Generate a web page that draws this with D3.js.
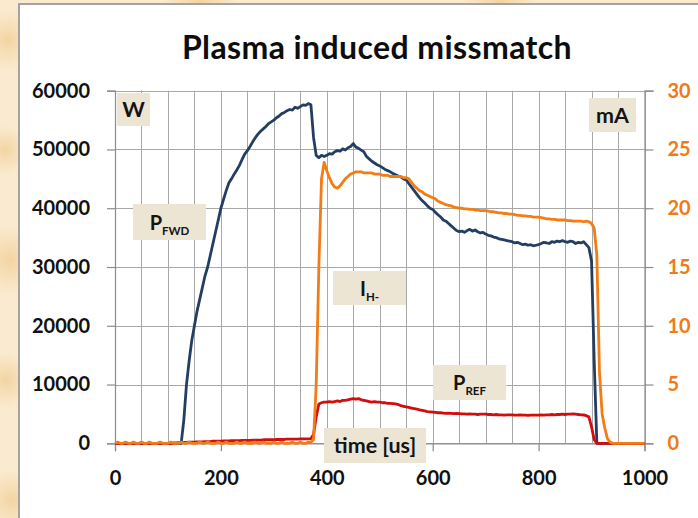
<!DOCTYPE html>
<html><head><meta charset="utf-8">
<script src="https://cdn.jsdelivr.net/npm/d3@7"></script>
<style>html,body{margin:0;padding:0;background:#f9e8c8;overflow:hidden}</style>
</head><body><svg id="c" width="698" height="518"></svg>
<script>
// sampling grid (us)
const time = d3.range(0, 1001, 5);
// P_FWD [W]
const pFwd = [
0,0,0,0,0,0,0,0,0,0,
0,0,0,0,0,0,0,0,0,0,
0,0,0,0,0,0,4000,10000,14000,17500,
20000,22500,24500,26500,28500,30000,32000,34000,36000,38000,
40000,41500,43000,44300,45000,45800,46500,47300,48300,49200,
49800,50500,51300,52000,52600,53100,53500,53900,54400,54700,
55000,55400,55700,56100,56300,56600,56800,56700,57200,57000,
57300,57600,57500,57800,57600,52000,49000,48600,49000,48800,
49000,49300,49200,49600,49800,49700,50100,49900,50300,50500,
51000,50400,50200,49900,49600,48800,48400,48000,47700,47400,
47200,46900,46600,46400,46200,45900,45700,45500,45300,45000,
44800,44200,43600,43000,42400,41800,41300,40900,40400,40000,
39800,39300,38900,38500,38000,37800,37400,37000,36600,36200,
36000,36100,35900,36200,36400,36100,36300,36000,35800,35900,
35600,35400,35300,35100,35000,34800,34700,34600,34500,34400,
34300,34100,34200,34000,33800,33900,33700,33800,33600,33700,
33800,34000,34200,34100,34000,34300,34200,34400,34300,34500,
34300,34200,34400,34300,34000,34200,34100,34300,33800,33300,
31000,14000,0,0,0,0,0,0,0,0,
0,0,0,0,0,0,0,0,0,0,
0];
// I_H- [mA]
const iH = [
0,0.1,0,0,0.1,0,0,0.1,0,0,
0.1,0,0,0.1,0,0,0,0.1,0,0,
0,0.1,0,0,0,0.1,0,0,0.1,0,
0,0,0.1,0,0,0.1,0,0,0,0.1,
0,0,0.1,0,0,0,0.1,0,0,0.1,
0,0,0,0.1,0,0,0.1,0,0,0,
0.1,0,0,0.1,0,0,0,0.1,0,0,
0.1,0,0,0.1,0.1,0.3,5,15,22.5,23.9,
23.2,22.6,22.1,21.8,21.7,21.9,22.2,22.5,22.7,22.9,
23.0,23.1,23.1,23.1,23.0,23.0,23.0,23.0,22.9,22.9,
22.9,22.8,22.8,22.8,22.7,22.7,22.7,22.7,22.7,22.6,
22.6,22.5,22.2,21.9,21.7,21.5,21.4,21.2,21.1,21.0,
20.9,20.8,20.6,20.5,20.4,20.3,20.25,20.2,20.1,20.05,
20.0,20.0,19.95,19.95,19.9,19.9,19.85,19.85,19.8,19.8,
19.8,19.75,19.7,19.7,19.65,19.6,19.6,19.55,19.55,19.5,
19.5,19.45,19.4,19.4,19.35,19.35,19.3,19.3,19.25,19.25,
19.25,19.2,19.15,19.1,19.1,19.05,19.05,19.0,19.0,19.0,
19.0,18.95,18.95,18.9,18.9,18.9,18.9,18.85,18.9,18.85,
18.7,18.3,16,6,2.5,1.3,0.4,0.1,0,0,
0,0,0,0,0,0,0,0,0,0,
0];
// P_REF [W]
const pRef = [
0,0,0,0,0,0,0,0,0,0,
0,0,0,0,0,0,0,0,0,0,
0,0,50,50,100,100,150,150,200,200,
200,250,250,250,300,300,300,350,350,350,
350,400,400,400,450,450,450,450,500,500,
500,500,550,550,550,550,600,600,600,600,
600,650,650,650,650,700,700,700,700,700,
750,750,750,750,800,1500,4500,6700,6900,7000,
7000,7100,7000,7100,7200,7100,7300,7300,7400,7500,
7600,7500,7600,7400,7300,7200,7100,7000,7100,7000,
7000,6900,6900,6800,6800,6750,6700,6600,6400,6300,
6200,6100,6000,5900,5800,5700,5600,5500,5400,5350,
5300,5250,5200,5200,5150,5100,5150,5100,5050,5100,
5050,5000,5000,4950,5000,4950,4950,4900,4950,4950,
4950,4900,4900,4850,4900,4850,4850,4800,4850,4850,
4850,4800,4800,4850,4800,4800,4750,4800,4800,4800,
4800,4850,4800,4850,4850,4900,4850,4900,4900,4950,
4900,4950,4950,5000,4950,4900,4850,4850,4700,4500,
2800,600,0,0,0,0,0,0,0,0,
0,0,0,0,0,0,0,0,0,0,
0];
const xTicks = [0, 200, 400, 600, 800, 1000];
const xGrid = d3.range(0, 1001, 50);
const yLeftTicks = [0, 10000, 20000, 30000, 40000, 50000, 60000];
const yRightTicks = [0, 5, 10, 15, 20, 25, 30];
const title = "Plasma induced missmatch";
const boxLabels = [
  {main: "W", sub: "", x: 117, y: 93, w: 33, h: 33},
  {main: "mA", sub: "", x: 589, y: 98, w: 47, h: 34},
  {main: "P", sub: "FWD", x: 133, y: 204, w: 73, h: 36},
  {main: "I", sub: "H-", x: 333, y: 271, w: 73, h: 34},
  {main: "P", sub: "REF", x: 433, y: 365, w: 73, h: 35},
  {main: "time [us]", sub: "", x: 324, y: 428, w: 102, h: 35}
];

const svg = d3.select("#c");
const FONT = "Lato, 'Open Sans', sans-serif";

// background texture
const defs = svg.append("defs");
const rg = defs.append("radialGradient").attr("id", "blob");
rg.append("stop").attr("offset", "0%").attr("stop-color", "#f1cf98").attr("stop-opacity", 0.8);
rg.append("stop").attr("offset", "100%").attr("stop-color", "#f1cf98").attr("stop-opacity", 0);
svg.append("rect").attr("width", 698).attr("height", 518).attr("fill", "#faebd0");
[[8,40,30],[5,150,25],[10,260,35],[6,380,28],[12,500,30],[200,2,40],[500,2,40]].forEach(b =>
  svg.append("circle").attr("cx", b[0]).attr("cy", b[1]).attr("r", b[2]).attr("fill", "url(#blob)"));

// white panel
svg.append("rect").attr("x", 19).attr("y", 4).attr("width", 700).attr("height", 530)
  .attr("fill", "#fff").attr("stroke", "#a3a3a3").attr("stroke-width", 2);

const x = d3.scaleLinear().domain([0, 1000]).range([115, 644.5]);
const yL = d3.scaleLinear().domain([0, 60000]).range([443.3, 90.7]);
const yR = d3.scaleLinear().domain([0, 30]).range([443.3, 90.7]);

// grid
const grid = svg.append("g").attr("stroke", "#a8a8a8").attr("stroke-width", 1);
xGrid.forEach(t => grid.append("line").attr("x1", Math.round(x(t)) + 0.5).attr("x2", Math.round(x(t)) + 0.5)
  .attr("y1", yL(60000)).attr("y2", yL(0)));
yLeftTicks.forEach(v => grid.append("line").attr("y1", Math.round(yL(v)) + 0.5).attr("y2", Math.round(yL(v)) + 0.5)
  .attr("x1", x(0)).attr("x2", x(1000)));

// axes
const axL = svg.append("g").attr("transform", `translate(${x(0)},0)`)
  .call(d3.axisLeft(yL).tickValues(yLeftTicks).tickSize(8).tickPadding(17).tickFormat(d3.format("d")));
const axR = svg.append("g").attr("transform", `translate(${x(1000)},0)`)
  .call(d3.axisRight(yR).tickValues(yRightTicks).tickSize(9).tickPadding(14).tickFormat(d3.format("d")));
const axB = svg.append("g").attr("transform", `translate(0,${yL(0)})`)
  .call(d3.axisBottom(x).tickValues(xTicks).tickSize(8).tickPadding(20).tickFormat(d3.format("d")));
[axL, axR, axB].forEach(a => {
  a.select(".domain").attr("stroke", "#8c8c8c").attr("stroke-width", 1.2);
  a.selectAll(".tick line").attr("stroke", "#8c8c8c").attr("stroke-width", 1.2);
  a.selectAll("text").attr("font-family", FONT).attr("font-weight", "bold").attr("font-size", 20);
});
axL.selectAll("text").attr("fill", "#111");
axB.selectAll("text").attr("fill", "#111");
axR.selectAll("text").attr("fill", "#f07a17");

// lines
const data = time.map((t, i) => ({t, f: pFwd[i], h: iH[i], r: pRef[i]}));
const mk = (fy) => d3.line().x(d => x(d.t)).y(fy);
svg.append("path").datum(data).attr("d", mk(d => yL(d.f))).attr("fill", "none")
  .attr("stroke", "#233e62").attr("stroke-width", 2.8).attr("stroke-linejoin", "round");
svg.append("path").datum(data).attr("d", mk(d => yL(d.r))).attr("fill", "none")
  .attr("stroke", "#d10d0d").attr("stroke-width", 2.8).attr("stroke-linejoin", "round");
svg.append("path").datum(data).attr("d", mk(d => yR(d.h))).attr("fill", "none")
  .attr("stroke", "#f27c16").attr("stroke-width", 2.8).attr("stroke-linejoin", "round");

// title
svg.append("text").attr("x", 377).attr("y", 59).attr("text-anchor", "middle")
  .attr("font-family", FONT).attr("font-weight", "bold").attr("font-size", 32)
  .attr("letter-spacing", 0.4).attr("fill", "#0d0d0d").text(title);

// label boxes
boxLabels.forEach(b => {
  const g = svg.append("g");
  g.append("rect").attr("x", b.x).attr("y", b.y).attr("width", b.w).attr("height", b.h).attr("fill", "#ece5d3");
  const t = g.append("text").attr("x", b.x + b.w / 2).attr("y", b.y + b.h / 2 + 7.5)
    .attr("text-anchor", "middle").attr("font-family", FONT).attr("font-weight", "bold")
    .attr("fill", "#141414");
  t.append("tspan").attr("font-size", b.sub ? 20 : 21.5).text(b.main);
  if (b.sub) t.append("tspan").attr("font-size", 11.5).attr("dy", 5).text(b.sub);
});
</script></body></html>
